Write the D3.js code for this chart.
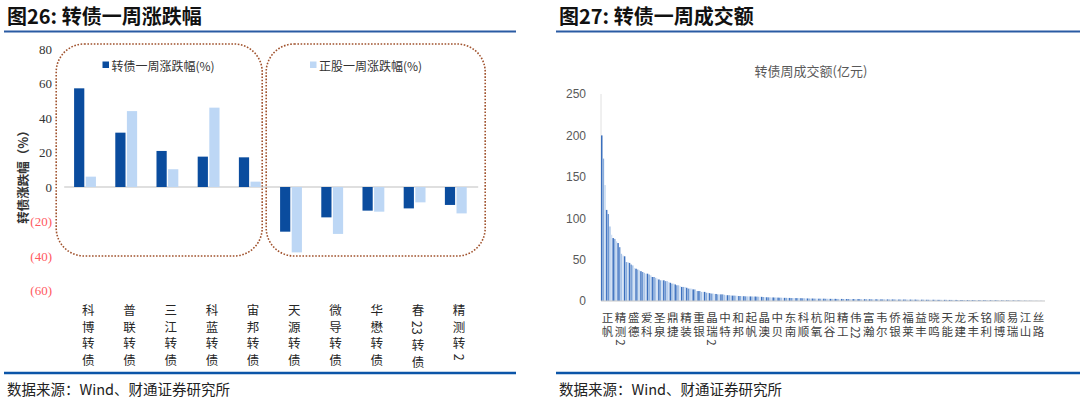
<!DOCTYPE html>
<html>
<head>
<meta charset="utf-8">
<script src="https://cdn.jsdelivr.net/npm/d3@7"></script>
<style>
  body { margin: 0; background: #fff; }
  svg { display: block; font-family: "Noto Sans CJK SC", sans-serif; }
  .vlabel { writing-mode: vertical-rl; text-orientation: mixed; }
</style>
</head>
<body>
<svg id="chart" width="1080" height="404"></svg>
<script>
// 图26 data
var bondNames = ["科博转债", "普联转债", "三江转债", "科蓝转债", "宙邦转债", "天源转债", "微导转债", "华懋转债", "春23转债", "精测转2"];
var bondChange = [57.2, 31.5, 20.9, 17.6, 17.2, -25.9, -17.6, -13.7, -12.4, -10.4];
var stockChange = [6.0, 44.0, 10.3, 46.0, 3.1, -37.9, -27.2, -14.3, -8.9, -15.3];
var changeTicks = [80, 60, 40, 20, 0, -20, -40, -60];
var seriesNames = ["转债一周涨跌幅(%)", "正股一周涨跌幅(%)"];

// 图27 data (亿元), sorted high to low
var turnover = [
  200, 172, 140, 110, 105, 90, 80, 76, 75, 72, 70, 65, 57, 55, 54,
  47, 47, 46, 44, 43, 40, 39, 38, 37, 36, 35, 34, 33, 33, 32,
  31, 29, 29, 28, 27, 26, 25, 25, 25, 24, 24, 23, 22, 21, 21,
  20, 19, 19, 18, 17, 17, 17, 16, 15, 15, 15, 14, 14, 12, 12,
  12, 11, 11, 11, 10, 10, 9.5, 9, 9, 8.5, 8.5, 8, 8, 8, 8,
  7.5, 7, 7, 7, 6.8, 6.5, 6.5, 6.4, 6.2, 6, 6, 5.8, 5.8, 5.6, 5.6,
  5.6, 5.5, 5.5, 5.4, 5.4, 5.3, 5.2, 5.2, 5, 4.8, 4.6, 4.5, 4.4, 4.4, 4.3,
  4.3, 4.2, 4.2, 4.1, 4, 4, 3.9, 3.8, 3.8, 3.7, 3.7, 3.6, 3.6, 3.6, 3.5,
  3.5, 3.4, 3.4, 3.3, 3.3, 3.2, 3.1, 3, 3, 3, 2.9, 2.9, 2.9, 2.8, 2.8,
  2.8, 2.8, 2.7, 2.7, 2.7, 2.6, 2.6, 2.6, 2.6, 2.5, 2.5, 2.5, 2.5, 2.4, 2.4,
  2.4, 2.4, 2.4, 2.4, 2.3, 2.3, 2.3, 2.3, 2.3, 2.2, 2.2, 2.2, 2.2, 2.2, 2.1,
  2.1, 2.1, 2.1, 2.1, 2, 2, 2, 2, 2, 2, 1.9, 1.9, 1.9, 1.9, 1.9,
  1.9, 1.8, 1.8, 1.8, 1.8, 1.8, 1.8, 1.7, 1.7, 1.7, 1.7, 1.7, 1.7, 1.6, 1.6,
  1.6, 1.6, 1.6, 1.6, 1.5, 1.5, 1.5, 1.5, 1.5, 1.5, 1.5, 1.4, 1.4, 1.4, 1.4,
  1.4, 1.4, 1.3, 1.3, 1.3, 1.3, 1.3, 1.3, 1.2, 1.2, 1.2, 1.2, 1.2, 1.2, 1.1,
  1.1, 1.1, 1.1, 1.1, 1.1, 1, 1, 1, 1, 1, 1, 1, 0.9, 0.9, 0.9,
  0.9, 0.9, 0.9, 0.9, 0.8, 0.8, 0.8, 0.8, 0.8, 0.8, 0.8, 0.7, 0.7, 0.7, 0.7,
  0.7, 0.6, 0.5, 0.5, 0.4, 0.4, 0.4, 0.3, 0.3, 0.3, 0.3, 0.2, 0.2, 0.2, 0.2, 0.1, 0.1
];
var turnoverTicks = [0, 50, 100, 150, 200, 250];
// one label shown for every 8 bonds
var turnoverLabels = ["正帆", "精测2", "盛德", "爱科", "圣泉", "鼎捷", "精装", "重银", "晶瑞2", "中特",
  "和邦", "起帆", "晶澳", "中贝", "东南", "科顺", "杭氧", "阳谷", "精工", "伟22",
  "富瀚", "韦尔", "侨银", "福莱", "益丰", "晓鸣", "天能", "龙建", "禾丰", "铭利",
  "顺博", "易瑞", "江山", "丝路"];
var labelEvery = 8;

var barShades = ["#3b6fbd", "#8aaedd", "#c9dbf1", "#4476c2", "#6f98d2", "#a9c4e8", "#d3e1f4"];

var svg = d3.select("#chart");

// stacked (vertical) label, one text element; digit runs kept tight
function drawVertical(g, text, cx, top, size, step) {
  var t = g.append("text")
    .attr("class", "vlabel")
    .attr("x", cx).attr("y", top)
    .attr("font-size", size)
    .attr("letter-spacing", step - size);
  (text.match(/[0-9]+|./g) || []).forEach(function (tok) {
    if (tok.length > 1) {
      t.append("tspan").attr("letter-spacing", 0).text(tok.slice(0, -1));
      t.append("tspan").text(tok.slice(-1));
    } else {
      t.append("tspan").text(tok);
    }
  });
}

// panel frames: titles, blue rules, source
function panel(x0, x1, title) {
  svg.append("text")
    .attr("x", x0 + 3).attr("y", 24)
    .attr("font-size", 20).attr("font-weight", 700)
    .attr("fill", "#111")
    .text(title);
  svg.append("line")
    .attr("x1", x0).attr("x2", x1).attr("y1", 31.5).attr("y2", 31.5)
    .attr("stroke", "#2a5ba3").attr("stroke-width", 2);
  svg.append("line")
    .attr("x1", x0).attr("x2", x1).attr("y1", 373).attr("y2", 373)
    .attr("stroke", "#0b55a8").attr("stroke-width", 2.5);
  svg.append("text")
    .attr("x", x0 + 3).attr("y", 395)
    .attr("font-size", 14.5).attr("fill", "#222")
    .text("数据来源：Wind、财通证券研究所");
}
panel(4, 516, "图26: 转债一周涨跌幅");
panel(556, 1080, "图27: 转债一周成交额");

// ---------- 图26 ----------
var yL = d3.scaleLinear().domain([-60, 80]).range([290.5, 49]);
var xL = d3.scaleBand().domain(bondNames).range([64.2, 476.2]);
var xSub = d3.scaleBand().domain([0, 1])
  .range([xL.bandwidth() * 0.24, xL.bandwidth() * 0.77]).paddingInner(0.12);

var left = svg.append("g");

// dotted rounded frames around the gainers / losers
var bw = xL.bandwidth();
[[0, 4, -8, -8], [5, 9, -4, 9]].forEach(function (b) {
  var xa = xL(bondNames[b[0]]) + b[2];
  var xb = b[1] === 4 ? xL(bondNames[5]) + b[3] : xL(bondNames[b[1]]) + bw + b[3];
  left.append("rect")
    .attr("x", xa).attr("y", yL(80) - 5)
    .attr("width", xb - xa).attr("height", yL(-40) - yL(80) + 5)
    .attr("rx", 28).attr("ry", 28)
    .attr("fill", "none")
    .attr("stroke", "#a0522d").attr("stroke-width", 1.6)
    .attr("stroke-dasharray", "1.6,1.6");
});

// y axis labels
left.append("g")
  .attr("transform", "translate(52,0)")
  .call(d3.axisLeft(yL).tickValues(changeTicks).tickSize(0).tickPadding(0)
    .tickFormat(function (d) { return d < 0 ? "(" + (-d) + ")" : d; }))
  .call(function (g) { g.select(".domain").remove(); })
  .selectAll("text")
    .attr("font-family", "Liberation Serif, serif")
    .attr("font-size", 13)
    .attr("fill", function (d) { return d < 0 ? "#ff5a5f" : "#333"; });

// zero line
left.append("line")
  .attr("x1", xL.range()[0]).attr("x2", xL.range()[1] + 2)
  .attr("y1", yL(0)).attr("y2", yL(0))
  .attr("stroke", "#bfbfbf").attr("stroke-width", 1);

var seriesVals = [bondChange, stockChange];
var seriesCols = ["#0a4c9e", "#bdd7f5"];
bondNames.forEach(function (name, i) {
  seriesVals.forEach(function (vals, s) {
    var v = vals[i];
    left.append("rect")
      .attr("x", xL(name) + xSub(s))
      .attr("y", yL(Math.max(0, v)))
      .attr("width", xSub.bandwidth())
      .attr("height", Math.abs(yL(v) - yL(0)))
      .attr("fill", seriesCols[s]);
  });
});

// legend
[[102.5, 0], [310, 1]].forEach(function (l) {
  left.append("rect")
    .attr("x", l[0]).attr("y", 61.5).attr("width", 6.5).attr("height", 6.5)
    .attr("fill", seriesCols[l[1]]);
  left.append("text")
    .attr("x", l[0] + 9).attr("y", 65.5)
    .attr("dominant-baseline", "central")
    .attr("font-size", 12).attr("fill", "#333")
    .text(seriesNames[l[1]]);
});

// y axis title
left.append("text")
  .attr("transform", "translate(22,174) rotate(-90)")
  .attr("text-anchor", "middle")
  .attr("dominant-baseline", "central")
  .attr("font-size", 12.5).attr("font-weight", 700).attr("fill", "#333")
  .text("转债涨跌幅（%）");

// category labels
var lblL = left.append("g").attr("fill", "#262626");
bondNames.forEach(function (name) {
  drawVertical(lblL, name, xL(name) + bw / 2 + 3.5, 303.8, 12.5, 16.7);
});

// ---------- 图27 ----------
var right = svg.append("g");
var yR = d3.scaleLinear().domain([0, 250]).range([301, 94]);
var xR = d3.scaleBand().domain(d3.range(turnover.length)).range([601, 1045]).paddingInner(0.08);

right.append("text")
  .attr("x", 811).attr("y", 70)
  .attr("text-anchor", "middle").attr("dominant-baseline", "central")
  .attr("font-size", 13).attr("fill", "#595959")
  .text("转债周成交额(亿元)");

right.append("g")
  .attr("transform", "translate(586,0)")
  .call(d3.axisLeft(yR).tickValues(turnoverTicks).tickSize(0).tickPadding(0))
  .call(function (g) { g.select(".domain").remove(); })
  .selectAll("text")
    .attr("font-family", "Liberation Sans, Arial, sans-serif")
    .attr("font-size", 12)
    .attr("fill", "#595959");

right.append("line")
  .attr("x1", 601).attr("x2", 601).attr("y1", yR(250)).attr("y2", yR(0))
  .attr("stroke", "#e0e0e0");

right.selectAll("rect.bar")
  .data(turnover)
  .enter()
  .append("rect")
    .attr("class", "bar")
    .attr("x", function (d, i) { return xR(i); })
    .attr("y", function (d) { return yR(d); })
    .attr("width", xR.bandwidth())
    .attr("height", function (d) { return yR(0) - yR(d); })
    .attr("fill", function (d, i) { return barShades[i % barShades.length]; });

right.append("line")
  .attr("x1", 601).attr("x2", 1045).attr("y1", yR(0)).attr("y2", yR(0))
  .attr("stroke", "#c8c8c8");

// labels are clipped: only two rows fit below the axis
svg.append("clipPath").attr("id", "lblclip")
  .append("rect").attr("x", 590).attr("y", 305).attr("width", 470).attr("height", 41);
var lblR = right.append("g")
  .attr("clip-path", "url(#lblclip)")
  .attr("fill", "#404040");
turnoverLabels.forEach(function (name, k) {
  var cx = xR(k * labelEvery) + xR.step() * labelEvery / 2;
  drawVertical(lblR, name, cx, 312.2, 11.5, 13.5);
});
</script>
</body>
</html>
